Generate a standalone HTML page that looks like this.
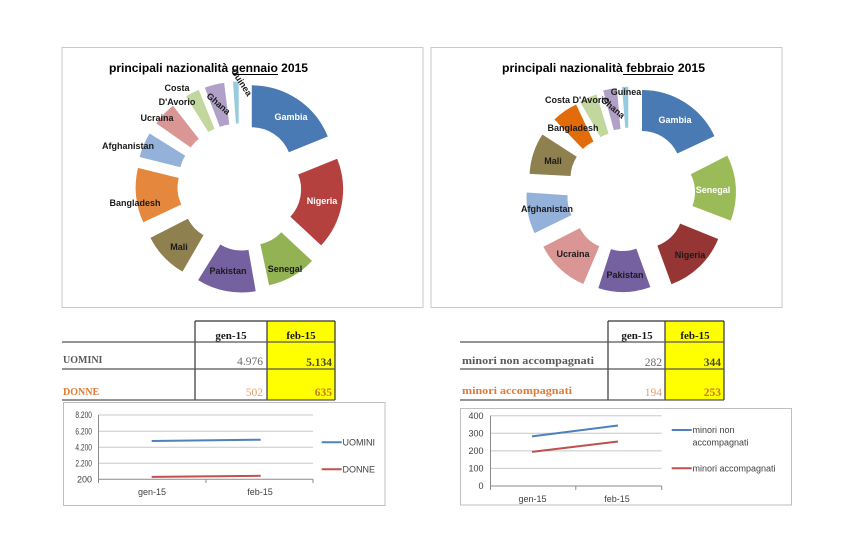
<!DOCTYPE html>
<html><head><meta charset="utf-8"><style>
html,body{margin:0;padding:0;background:#fff;}
svg{display:block;}
.lb{font-family:"Liberation Sans",sans-serif;font-weight:bold;font-size:9px;fill:#1a1a1a;text-anchor:middle;}
.wt{fill:#fff;}
.tt{font-family:"Liberation Sans",sans-serif;font-weight:bold;font-size:12px;fill:#000;}
.sf{font-family:"Liberation Serif",serif;}
.ax{font-family:"Liberation Sans",sans-serif;font-size:9px;fill:#404040;}
</style></head><body>
<svg width="854" height="545" viewBox="0 0 854 545" xmlns="http://www.w3.org/2000/svg">
<rect width="854" height="545" fill="#fff"/>

<!-- Left pie box -->
<rect x="62" y="47.5" width="361" height="260" fill="#fff" stroke="#c8c8c8" stroke-width="1"/>
<!-- Right pie box -->
<rect x="431" y="47.5" width="351" height="260" fill="#fff" stroke="#c8c8c8" stroke-width="1"/>

<!-- Left donut -->
<g fill="none" stroke-width="42">
<circle r="61" pathLength="360" stroke="#4a7ab4" stroke-dasharray="68 400" transform="translate(251.8 167.3) rotate(-90)"/>
<circle r="61" pathLength="360" stroke="#b5413f" stroke-dasharray="65 400" transform="translate(261.1 189.5) rotate(-22)"/>
<circle r="61" pathLength="360" stroke="#92b254" stroke-dasharray="35 400" transform="translate(252 205) rotate(43)"/>
<circle r="61" pathLength="360" stroke="#7560a0" stroke-dasharray="42 400" transform="translate(241.5 210.5) rotate(80)"/>
<circle r="61" pathLength="360" stroke="#8f8050" stroke-dasharray="33 400" transform="translate(223.5 200.6) rotate(120)"/>
<circle r="61" pathLength="360" stroke="#e5883e" stroke-dasharray="39 400" transform="translate(217.6 187.6) rotate(155)"/>
<circle r="61" pathLength="360" stroke="#94b1d9" stroke-dasharray="18 400" transform="translate(219.2 176.9) rotate(194)"/>
<circle r="61" pathLength="360" stroke="#d99695" stroke-dasharray="17 400" transform="translate(223.5 170.4) rotate(215)"/>
<circle r="61" pathLength="360" stroke="#c2d79d" stroke-dasharray="10 400" transform="translate(229.5 165.9) rotate(238)"/>
<circle r="61" pathLength="360" stroke="#b1a1c8" stroke-dasharray="14 400" transform="translate(234.2 164.2) rotate(249)"/>
<circle r="61" pathLength="360" stroke="#97cbe0" stroke-dasharray="4 400" transform="translate(238.7 163.5) rotate(266)"/>
</g>
<text class="tt" x="109" y="72" textLength="199" lengthAdjust="spacingAndGlyphs">principali nazionalità gennaio 2015</text>
<line x1="233" y1="74.5" x2="278" y2="74.5" stroke="#000" stroke-width="1"/>
<text class="lb wt" x="291" y="120">Gambia</text>
<text class="lb wt" x="322" y="204">Nigeria</text>
<text class="lb" x="285" y="272">Senegal</text>
<text class="lb" x="228" y="274">Pakistan</text>
<text class="lb" x="179" y="250">Mali</text>
<text class="lb" x="135" y="206">Bangladesh</text>
<text class="lb" x="128" y="149">Afghanistan</text>
<text class="lb" x="157" y="121">Ucraina</text>
<text class="lb" x="177" y="91">Costa</text>
<text class="lb" x="177" y="105">D'Avorio</text>
<text class="lb" transform="translate(216.5 106) rotate(41)">Ghana</text>
<text class="lb" transform="translate(239 84) rotate(57)">Guinea</text>

<!-- Right donut -->
<g fill="none" stroke-width="41">
<circle r="59.5" pathLength="360" stroke="#4a7ab4" stroke-dasharray="65 400" transform="translate(642 170) rotate(-90)"/>
<circle r="59.5" pathLength="360" stroke="#9bbb59" stroke-dasharray="48 400" transform="translate(656 192) rotate(-27)"/>
<circle r="59.5" pathLength="360" stroke="#963634" stroke-dasharray="48 400" transform="translate(644 209) rotate(22)"/>
<circle r="59.5" pathLength="360" stroke="#7560a0" stroke-dasharray="38 400" transform="translate(623 212) rotate(70)"/>
<circle r="59.5" pathLength="360" stroke="#d99695" stroke-dasharray="40 400" transform="translate(614.6 210.4) rotate(113)"/>
<circle r="59.5" pathLength="360" stroke="#94b1d9" stroke-dasharray="30 400" transform="translate(606.5 198) rotate(154)"/>
<circle r="59.5" pathLength="360" stroke="#8f8050" stroke-dasharray="30 400" transform="translate(609.5 178) rotate(183)"/>
<circle r="59.5" pathLength="360" stroke="#e36c0a" stroke-dasharray="19 400" transform="translate(610 177) rotate(226)"/>
<circle r="59.5" pathLength="360" stroke="#c2d79d" stroke-dasharray="13 400" transform="translate(620 171) rotate(240)"/>
<circle r="59.5" pathLength="360" stroke="#b1a1c8" stroke-dasharray="10 400" transform="translate(623.9 167.8) rotate(255)"/>
<circle r="59.5" pathLength="360" stroke="#97cbe0" stroke-dasharray="4.5 400" transform="translate(628.3 166.7) rotate(265.5)"/>
</g>
<text class="tt" x="502" y="72" textLength="203" lengthAdjust="spacingAndGlyphs">principali nazionalità febbraio 2015</text>
<line x1="623" y1="74.5" x2="673" y2="74.5" stroke="#000" stroke-width="1"/>
<text class="lb wt" x="675" y="123">Gambia</text>
<text class="lb wt" x="713" y="193">Senegal</text>
<text class="lb" x="690" y="258">Nigeria</text>
<text class="lb" x="625" y="278">Pakistan</text>
<text class="lb" x="573" y="257">Ucraina</text>
<text class="lb" x="547" y="212">Afghanistan</text>
<text class="lb" x="553" y="164">Mali</text>
<text class="lb" x="573" y="131">Bangladesh</text>
<text class="lb" x="545" y="103" style="text-anchor:start">Costa D'Avorio</text>
<text class="lb" transform="translate(611 110) rotate(40)">Ghana</text>
<text class="lb" x="626" y="95">Guinea</text>

<!-- Left table -->
<rect x="267" y="321" width="68" height="79" fill="#ffff00"/>
<g stroke="#333" stroke-width="1.2">
<line x1="195" y1="321" x2="335" y2="321"/>
<line x1="195" y1="321" x2="195" y2="400"/>
<line x1="267" y1="321" x2="267" y2="400"/>
<line x1="335" y1="321" x2="335" y2="400"/>
</g>
<g stroke="#555" stroke-width="1.2">
<line x1="62" y1="342" x2="335" y2="342"/>
<line x1="62" y1="369" x2="335" y2="369"/>
<line x1="62" y1="400" x2="335" y2="400"/>
</g>
<text class="sf" x="231" y="339" font-size="11" font-weight="bold" text-anchor="middle" fill="#1a1a1a">gen-15</text>
<text class="sf" x="301" y="339" font-size="11" font-weight="bold" text-anchor="middle" fill="#1a1a1a">feb-15</text>
<text class="sf" x="63" y="363" font-size="10" font-weight="bold" fill="#595959">UOMINI</text>
<text class="sf" x="263" y="365" font-size="11.5" text-anchor="end" fill="#6a6a6a">4.976</text>
<text class="sf" x="332" y="366" font-size="11.5" font-weight="bold" text-anchor="end" fill="#4a4a30">5.134</text>
<text class="sf" x="63" y="395" font-size="10" font-weight="bold" fill="#e07a35">DONNE</text>
<text class="sf" x="263" y="396" font-size="11.5" text-anchor="end" fill="#e8a070">502</text>
<text class="sf" x="332" y="396" font-size="11.5" font-weight="bold" text-anchor="end" fill="#c8782d">635</text>

<!-- Right table -->
<rect x="665" y="321" width="59" height="79" fill="#ffff00"/>
<g stroke="#333" stroke-width="1.2">
<line x1="608" y1="321" x2="724" y2="321"/>
<line x1="608" y1="321" x2="608" y2="400"/>
<line x1="665" y1="321" x2="665" y2="400"/>
<line x1="724" y1="321" x2="724" y2="400"/>
</g>
<g stroke="#555" stroke-width="1.2">
<line x1="460" y1="342" x2="724" y2="342"/>
<line x1="460" y1="369" x2="724" y2="369"/>
<line x1="460" y1="400" x2="724" y2="400"/>
</g>
<text class="sf" x="637" y="339" font-size="11" font-weight="bold" text-anchor="middle" fill="#1a1a1a">gen-15</text>
<text class="sf" x="695" y="339" font-size="11" font-weight="bold" text-anchor="middle" fill="#1a1a1a">feb-15</text>
<text class="sf" x="462" y="364" font-size="11" font-weight="bold" fill="#595959" textLength="132" lengthAdjust="spacingAndGlyphs">minori non accompagnati</text>
<text class="sf" x="462" y="394" font-size="11" font-weight="bold" fill="#e07a35" textLength="110" lengthAdjust="spacingAndGlyphs">minori accompagnati</text>
<text class="sf" x="662" y="366" font-size="11.5" text-anchor="end" fill="#6a6a6a">282</text>
<text class="sf" x="721" y="366" font-size="11.5" font-weight="bold" text-anchor="end" fill="#4a4a30">344</text>
<text class="sf" x="662" y="396" font-size="11.5" text-anchor="end" fill="#e8a070">194</text>
<text class="sf" x="721" y="396" font-size="11.5" font-weight="bold" text-anchor="end" fill="#c8782d">253</text>

<!-- Left line chart -->
<rect x="63.5" y="402.5" width="321.5" height="103" fill="#fff" stroke="#bfbfbf" stroke-width="1"/>
<g stroke="#c8c8c8" stroke-width="1">
<line x1="98" y1="415" x2="313" y2="415"/>
<line x1="98" y1="431.3" x2="313" y2="431.3"/>
<line x1="98" y1="447.3" x2="313" y2="447.3"/>
<line x1="98" y1="463.3" x2="313" y2="463.3"/>
</g>
<g stroke="#8a8a8a" stroke-width="1">
<line x1="98.5" y1="415" x2="98.5" y2="479.3"/>
<line x1="98" y1="479.3" x2="313" y2="479.3"/>
<line x1="98.5" y1="479.3" x2="98.5" y2="483"/>
<line x1="206" y1="479.3" x2="206" y2="483"/>
<line x1="313" y1="479.3" x2="313" y2="483"/>
</g>
<g class="ax" text-anchor="end" font-size="8">
<text x="92" y="418" textLength="16.6" lengthAdjust="spacingAndGlyphs">8.200</text>
<text x="92" y="434.5" textLength="16.6" lengthAdjust="spacingAndGlyphs">6.200</text>
<text x="92" y="450.5" textLength="16.6" lengthAdjust="spacingAndGlyphs">4.200</text>
<text x="92" y="466.5" textLength="16.6" lengthAdjust="spacingAndGlyphs">2.200</text>
<text x="92" y="482.5">200</text>
</g>
<text class="ax" x="152" y="495" text-anchor="middle">gen-15</text>
<text class="ax" x="260" y="495" text-anchor="middle">feb-15</text>
<line x1="151.7" y1="441" x2="260.7" y2="439.7" stroke="#4f81bd" stroke-width="2"/>
<line x1="151.7" y1="476.9" x2="260.7" y2="475.8" stroke="#c0504d" stroke-width="2"/>
<line x1="321.7" y1="442.3" x2="341.7" y2="442.3" stroke="#4f81bd" stroke-width="2"/>
<text class="ax" x="342.5" y="445.5" font-size="9.3">UOMINI</text>
<line x1="321.7" y1="469.3" x2="341.7" y2="469.3" stroke="#c0504d" stroke-width="2"/>
<text class="ax" x="342.5" y="472.5" font-size="9.3">DONNE</text>

<!-- Right line chart -->
<rect x="460.5" y="408.5" width="331" height="96.5" fill="#fff" stroke="#bfbfbf" stroke-width="1"/>
<g stroke="#c8c8c8" stroke-width="1">
<line x1="490" y1="415.7" x2="661.7" y2="415.7"/>
<line x1="490" y1="433.3" x2="661.7" y2="433.3"/>
<line x1="490" y1="450.9" x2="661.7" y2="450.9"/>
<line x1="490" y1="468.4" x2="661.7" y2="468.4"/>
</g>
<g stroke="#8a8a8a" stroke-width="1">
<line x1="490.5" y1="415.7" x2="490.5" y2="486"/>
<line x1="490" y1="486" x2="661.7" y2="486"/>
<line x1="490.5" y1="486" x2="490.5" y2="490"/>
<line x1="575.8" y1="486" x2="575.8" y2="490"/>
<line x1="661.7" y1="486" x2="661.7" y2="490"/>
</g>
<g class="ax" text-anchor="end" font-size="9.3">
<text x="483.5" y="419">400</text>
<text x="483.5" y="436.5">300</text>
<text x="483.5" y="454">200</text>
<text x="483.5" y="471.5">100</text>
<text x="483.5" y="489">0</text>
</g>
<text class="ax" x="532.5" y="502" text-anchor="middle" font-size="9.3">gen-15</text>
<text class="ax" x="617" y="502" text-anchor="middle" font-size="9.3">feb-15</text>
<line x1="532" y1="436.4" x2="618" y2="425.5" stroke="#4f81bd" stroke-width="2"/>
<line x1="532" y1="451.9" x2="618" y2="441.5" stroke="#c0504d" stroke-width="2"/>
<line x1="671.7" y1="430" x2="691.7" y2="430" stroke="#4f81bd" stroke-width="2"/>
<text class="ax" x="692.5" y="433" font-size="9.3">minori non</text>
<text class="ax" x="692.5" y="445.5" font-size="9.3">accompagnati</text>
<line x1="671.7" y1="468.3" x2="691.7" y2="468.3" stroke="#c0504d" stroke-width="2"/>
<text class="ax" x="692.5" y="471.5" font-size="9.3">minori accompagnati</text>
</svg>
</body></html>
